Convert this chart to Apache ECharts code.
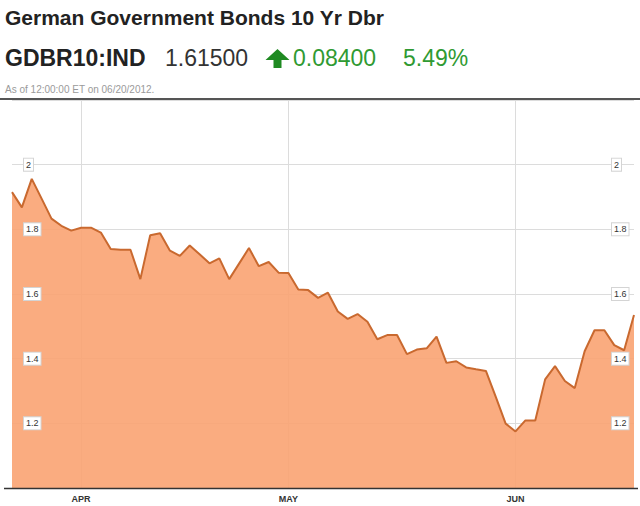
<!DOCTYPE html>
<html>
<head>
<meta charset="utf-8">
<script src="https://cdn.jsdelivr.net/npm/echarts@6/dist/echarts.min.js"></script>
<style>
html,body{margin:0;padding:0;background:#fff;}
#chart{width:640px;height:506px;}
</style>
</head>
<body>
<div id="chart"></div>
<script>
// ---- Data ----
var dates = [
  "2012-03-22","2012-03-23","2012-03-26","2012-03-27","2012-03-28","2012-03-29","2012-03-30",
  "2012-04-02","2012-04-03","2012-04-04","2012-04-05","2012-04-06","2012-04-09","2012-04-10",
  "2012-04-11","2012-04-12","2012-04-13","2012-04-16","2012-04-17","2012-04-18","2012-04-19",
  "2012-04-20","2012-04-23","2012-04-24","2012-04-25","2012-04-26","2012-04-27","2012-04-30",
  "2012-05-01","2012-05-02","2012-05-03","2012-05-04","2012-05-07","2012-05-08","2012-05-09",
  "2012-05-10","2012-05-11","2012-05-14","2012-05-15","2012-05-16","2012-05-17","2012-05-18",
  "2012-05-21","2012-05-22","2012-05-23","2012-05-24","2012-05-25","2012-05-28","2012-05-29",
  "2012-05-30","2012-05-31",
  "2012-06-01","2012-06-04","2012-06-05","2012-06-06","2012-06-07","2012-06-08","2012-06-11",
  "2012-06-12","2012-06-13","2012-06-14","2012-06-15","2012-06-18","2012-06-19"
];
var yields = [
  1.915, 1.868, 1.956, 1.895, 1.833, 1.811, 1.796,
  1.805, 1.805, 1.790, 1.739, 1.737, 1.737, 1.646,
  1.782, 1.788, 1.734, 1.718, 1.750, 1.723, 1.695,
  1.710, 1.646, 1.694, 1.742, 1.686, 1.699, 1.666,
  1.665, 1.614, 1.612, 1.588, 1.604, 1.546, 1.523,
  1.538, 1.514, 1.460, 1.473, 1.473, 1.414, 1.428,
  1.432, 1.468, 1.387, 1.392, 1.373, 1.367, 1.362,
  1.282, 1.199,
  1.175, 1.209, 1.209, 1.336, 1.377, 1.331, 1.309,
  1.423, 1.488, 1.488, 1.442, 1.426, 1.535
];
var monthTickDates = ["2012-04-02", "2012-05-01", "2012-06-01"];
var monthTickLabels = ["APR", "MAY", "JUN"];
var yTickLabels = ["1.2", "1.4", "1.6", "1.8", "2"];

var titleText = "German Government Bonds 10 Yr Dbr";
var tickerText = "GDBR10:IND";
var priceText = "1.61500";
var changeText = "0.08400";
var pctText = "5.49%";
var asOfText = "As of 12:00:00 ET on 06/20/2012.";

// ---- Chart ----
function isMonthTick(idx, val) { return monthTickDates.indexOf(val) >= 0; }
function yLabel(v) {
  var s = String(Math.round(v * 10) / 10);
  return yTickLabels.indexOf(s) >= 0 ? s : '';
}
var yLabelStyle = {
  fontFamily: 'Liberation Sans, Arial, sans-serif',
  fontSize: 9,
  color: '#333',
  backgroundColor: '#fff',
  borderColor: '#d4d4d4',
  borderWidth: 1,
  padding: [2, 2, 1, 2]
};
var green = '#2f9a32';
var yBase = {type: 'value', min: 1.0, max: 2.2, interval: 0.2, axisLine: {show: false}, axisTick: {show: false}};
var chart = echarts.init(document.getElementById('chart'), null, {renderer: 'svg'});
chart.setOption({
  animation: false,
  backgroundColor: '#fff',
  grid: {left: 12, right: 6, top: 100, bottom: 18},
  xAxis: {
    type: 'category',
    data: dates,
    boundaryGap: false,
    axisLine: {show: false},
    axisTick: {show: false},
    axisLabel: {
      interval: isMonthTick,
      formatter: function (v) { var i = monthTickDates.indexOf(v); return i >= 0 ? monthTickLabels[i] : ''; },
      fontFamily: 'Liberation Sans, Arial, sans-serif',
      fontSize: 9, fontWeight: 'bold', color: '#333', margin: 6
    },
    splitLine: {show: true, interval: isMonthTick, lineStyle: {color: '#dcdcdc', width: 1}}
  },
  yAxis: [
    Object.assign({}, yBase, {
      position: 'left',
      splitLine: {show: true, lineStyle: {color: '#dcdcdc', width: 1}},
      axisLabel: {show: false}
    }),
    Object.assign({}, yBase, {
      position: 'left', z: 10, splitLine: {show: false},
      axisLabel: Object.assign({inside: true, margin: 12, showMinLabel: false, showMaxLabel: false, formatter: yLabel}, yLabelStyle)
    }),
    Object.assign({}, yBase, {
      position: 'right', z: 10, splitLine: {show: false},
      axisLabel: Object.assign({inside: true, margin: 22, align: 'left', showMinLabel: false, showMaxLabel: false, formatter: yLabel}, yLabelStyle)
    })
  ],
  series: [{
    type: 'line',
    data: yields,
    yAxisIndex: 0,
    symbol: 'none',
    lineStyle: {color: '#c9692f', width: 2},
    areaStyle: {color: 'rgb(250,163,114)', opacity: 0.9, origin: 'start'},
    z: 2
  }],
  graphic: [
    {type: 'text', x: 5, y: 17, z: 10, style: {text: titleText, font: 'bold 21px "Liberation Sans", Arial, sans-serif', fill: '#222', textVerticalAlign: 'middle'}},
    {type: 'text', x: 5, y: 58, z: 10, style: {text: tickerText, font: 'bold 23px "Liberation Sans", Arial, sans-serif', fill: '#222', textVerticalAlign: 'middle'}},
    {type: 'text', x: 165, y: 58, z: 10, style: {text: priceText, font: '23px "Liberation Sans", Arial, sans-serif', fill: '#333', textVerticalAlign: 'middle'}},
    {type: 'polygon', z: 10, shape: {points: [[277.5, 49], [289.5, 60], [281.5, 60], [281.5, 68], [273.5, 68], [273.5, 60], [265.5, 60]]}, style: {fill: '#1f8a22'}},
    {type: 'text', x: 293, y: 58, z: 10, style: {text: changeText, font: '23px "Liberation Sans", Arial, sans-serif', fill: green, textVerticalAlign: 'middle'}},
    {type: 'text', x: 403, y: 58, z: 10, style: {text: pctText, font: '23px "Liberation Sans", Arial, sans-serif', fill: green, textVerticalAlign: 'middle'}},
    {type: 'text', x: 5, y: 89, z: 10, style: {text: asOfText, font: '10px "Liberation Sans", Arial, sans-serif', fill: '#9a9a9a', textVerticalAlign: 'middle'}},
    {type: 'line', z: 10, shape: {x1: 0, y1: 99, x2: 640, y2: 99}, style: {stroke: '#555', lineWidth: 2}},
    {type: 'line', z: 10, shape: {x1: 4, y1: 488.5, x2: 638, y2: 488.5}, style: {stroke: '#333', lineWidth: 1.5}}
  ]
});
</script>
</body>
</html>
